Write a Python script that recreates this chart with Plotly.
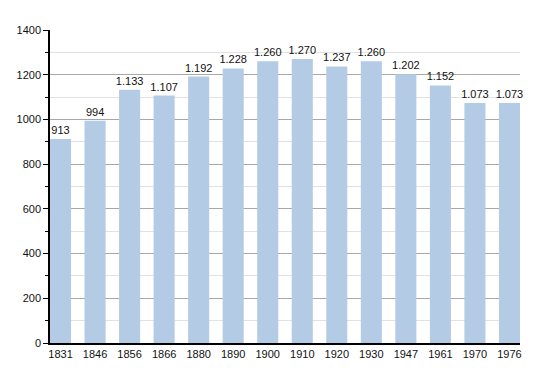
import plotly.graph_objects as go

years = ["1831", "1846", "1856", "1866", "1880", "1890", "1900", "1910",
         "1920", "1930", "1947", "1961", "1970", "1976"]
population = [913, 994, 1133, 1107, 1192, 1228, 1260, 1270, 1237, 1260,
              1202, 1152, 1073, 1073]
y_ticks = [0, 200, 400, 600, 800, 1000, 1200, 1400]

labels = [f"{v:,}".replace(",", ".") for v in population]

fig = go.Figure(go.Bar(
    x=years, y=population, text=labels, textposition="outside",
    marker=dict(color="#b3cbe5", line=dict(width=0)),
    textfont=dict(family="Liberation Sans, Arial, sans-serif", size=11, color="#111"),
    cliponaxis=False, width=0.61,
))

# page body adds an 8px offset; margins compensate for it
fig.update_layout(
    width=550, height=373,
    margin=dict(l=42, r=38, t=22, b=38),
    plot_bgcolor="white", paper_bgcolor="white",
    font=dict(family="Liberation Sans, Arial, sans-serif", size=11, color="#111"),
    showlegend=False,
    uniformtext=dict(minsize=11, mode="show"),
)
fig.update_xaxes(
    type="category", range=[-0.305, 13.305], automargin=False,
    showline=True, linecolor="black", linewidth=1.5,
    showgrid=False, ticks="", ticklen=0,
)
fig.update_yaxes(
    range=[0, 1400], tickvals=y_ticks, automargin=False,
    showline=True, linecolor="black", linewidth=1.5,
    showgrid=True, gridcolor="#a8a8a8", gridwidth=1,
    ticks="outside", ticklen=5, tickcolor="black",
    zeroline=False,
    minor=dict(dtick=100, showgrid=True, gridcolor="#e2e2e2",
               ticks="outside", ticklen=3, tickcolor="black"),
)

fig.write_html("out.html")
